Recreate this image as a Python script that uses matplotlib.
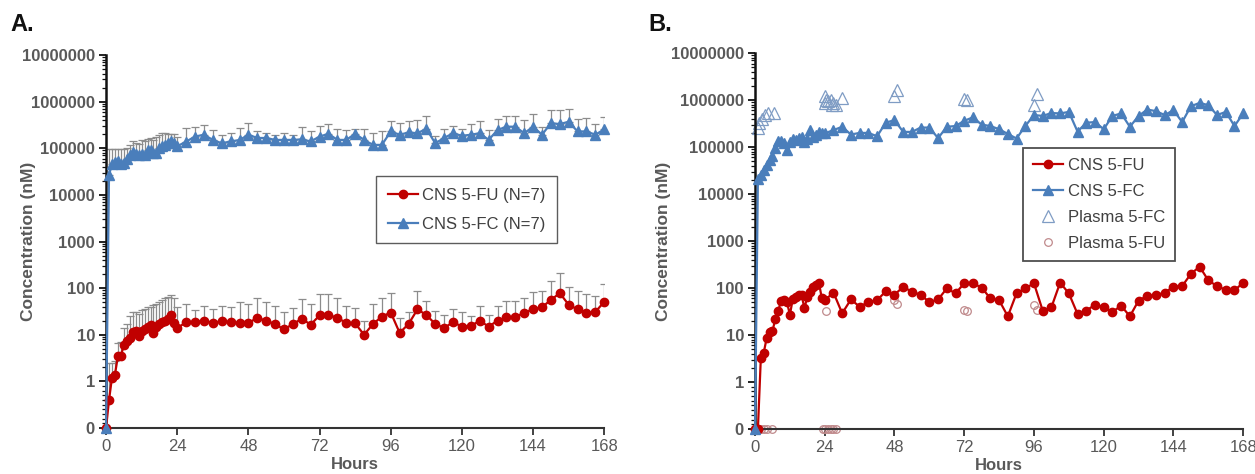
import numpy as np
import matplotlib
matplotlib.use('Agg')
import matplotlib.pyplot as plt
from matplotlib.ticker import FixedLocator

plt.rcParams['font.family'] = ['Liberation Sans', 'DejaVu Sans']

# sampling times (h): hourly for the first day, then every 3 h
hours = list(range(0, 25)) + list(range(27, 169, 3))

# ---- panel A: mean + upper SD (N=7) ----
a_fu = [0, 0.6, 1.2, 1.4, 3.5, 3.5, 6, 7.5, 8.5, 11.5, 12, 9.5, 12, 13.5, 15, 16, 11, 15, 17, 19,
        20, 22, 27, 18, 14,
        18.5, 18.5, 20, 18, 19.5, 18.5, 18, 18, 23, 20, 17, 13, 17, 22, 16.5, 26, 26.6, 23, 18, 17.5,
        10, 17, 24.5, 30, 11, 17, 35, 26.6, 17, 14, 18.6, 15, 15.5, 20, 15, 20, 23.7, 23.7, 30, 35,
        39, 56, 78, 44, 35, 29, 31, 51]
a_fu_top = [0, 2.5, 2.5, 2.7, 6.5, 7, 14, 17, 25, 31, 31, 28, 34, 35, 40, 40, 44, 46, 51, 55,
            60, 65, 72, 60, 40,
            46, 34, 41, 36, 41, 40, 51, 45, 62, 51, 41, 31, 38, 58, 46, 74, 74, 60, 41, 37,
            20, 46, 60, 78, 23, 31, 87, 53, 32, 26, 36, 31, 25.5, 41.5, 27, 41.5, 53, 53, 60, 81,
            87, 145, 215, 105, 87, 74, 68, 120]
a_fc = [0, 27000, 45000, 50000, 52000, 45000, 48000, 60000, 72000, 85000, 75000, 72000, 75000,
        72000, 90000, 93000, 80000, 78000, 100000, 110000, 120000, 128000, 140000, 130000, 110000,
        139000, 178000, 195000, 151000, 128000, 140000, 150000, 195000, 166000, 166000, 151000,
        151000, 151000, 155000, 140000, 178000, 204000, 151000, 151000, 204000, 151000, 118000,
        118000, 229000, 195000, 218000, 210000, 262000, 128000, 166000, 210000, 185000, 195000,
        210000, 151000, 246000, 290000, 290000, 210000, 290000, 195000, 345000, 330000, 370000,
        229000, 229000, 195000, 255000]
a_fc_top = [0, 95000, 95000, 95000, 95000, 95000, 95000, 100000, 120000, 140000, 130000, 125000,
            150000, 140000, 160000, 166000, 150000, 170000, 190000, 210000, 210000, 205000,
            200000, 200000, 170000,
            270000, 290000, 320000, 250000, 195000, 210000, 270000, 355000, 230000, 210000,
            195000, 210000, 195000, 283000, 235000, 300000, 333000, 255000, 246000, 262000,
            262000, 210000, 235000, 390000, 345000, 390000, 410000, 500000, 185000, 255000,
            300000, 255000, 333000, 390000, 246000, 420000, 480000, 500000, 410000, 530000,
            290000, 660000, 660000, 680000, 420000, 440000, 330000, 470000]

# ---- panel B: single animal CNS + plasma samples ----
b_fu = [0, 0, 3.2, 4.2, 8.5, 11.7, 12, 22, 33, 54, 55, 50, 27, 58, 65, 70, 72, 37, 65, 83,
        105, 115, 130, 60, 55,
        80, 29, 57, 40, 50, 55, 85, 72, 106, 83, 72, 50, 57, 98, 77, 126, 126, 102, 60, 55,
        25, 77, 98, 126, 33, 39, 130, 77, 28, 33, 44, 39, 31, 42, 25, 54, 68, 70, 80, 106,
        110, 200, 285, 145, 110, 91, 89, 130]
b_fc = [0, 21000, 26000, 33000, 42000, 52000, 65000, 95000, 135000, 135000, 125000, 85000,
        128000, 145000, 140000, 155000, 165000, 130000, 150000, 230000, 160000, 180000, 210000,
        200000, 195000,
        230000, 270000, 185000, 200000, 200000, 170000, 330000, 375000, 210000, 210000, 260000,
        260000, 155000, 270000, 280000, 363000, 428000, 300000, 280000, 240000, 190000, 152000,
        280000, 480000, 460000, 530000, 520000, 560000, 213000, 330000, 340000, 240000, 460000,
        520000, 270000, 460000, 630000, 580000, 480000, 610000, 340000, 740000, 870000, 780000,
        480000, 560000, 280000, 520000]

plasma_fc_hours = [1, 1.5, 2.5, 3.5, 4.5, 6.5, 24, 24, 24.5, 25, 26, 26.5, 27, 28, 30,
                   48, 49, 72, 73, 96, 97]
plasma_fc = [250000, 320000, 390000, 470000, 520000, 520000, 1250000, 850000, 1000000, 950000,
             1000000, 800000, 850000, 800000, 1100000, 1200000, 1600000, 1050000, 1000000,
             800000, 1350000]
plasma_fu_hours = [0.5, 1, 2, 3, 4, 6, 23.5, 24, 25, 26, 27, 28, 24.5, 48, 49, 72, 73, 96, 97]
plasma_fu = [0, 0, 0, 0, 0, 0, 0, 0, 0, 0, 0, 0, 33, 55, 45, 34, 32, 44, 34]

ytick_vals = [0, 1, 10, 100, 1000, 10000, 100000, 1000000, 10000000]
ytick_labels = ['0', '1', '10', '100', '1000', '10000', '100000', '1000000', '10000000']
xtick_vals = list(range(0, 169, 24))

RED = '#C00000'
BLUE = '#4A7EBB'
GREY_TXT = '#595959'


def style_axis(ax, label_x):
    ax.set_yscale('symlog', linthresh=1, linscale=0.9)
    ax.set_ylim(0, 1e7)
    ax.set_xlim(0, 168)
    ax.set_xticks(xtick_vals)
    ax.set_xticklabels([str(v) for v in xtick_vals], color=GREY_TXT, fontsize=12)
    ax.set_yticks(ytick_vals)
    ax.set_yticklabels(ytick_labels, color=GREY_TXT, fontsize=12, fontweight='bold')
    minor = [i / 10 for i in range(1, 10)] + [k * 10 ** d for d in range(0, 7) for k in range(2, 10)]
    ax.yaxis.set_minor_locator(FixedLocator(minor))
    for s in ('top', 'right'):
        ax.spines[s].set_visible(False)
    ax.spines['left'].set_linewidth(1.8)
    ax.spines['left'].set_color('#111111')
    ax.spines['bottom'].set_linewidth(1.5)
    ax.spines['bottom'].set_color('#333333')
    ax.tick_params(axis='y', which='major', length=5, width=1.3, color='#111111', pad=3)
    ax.tick_params(axis='y', which='minor', length=3, width=0.9, color='#111111')
    ax.tick_params(axis='x', which='major', length=5, width=1.3, color='#333333', pad=3)
    ax.set_ylabel('Concentration (nM)', color=GREY_TXT, fontsize=12.5, fontweight='bold')
    ax.yaxis.set_label_coords(label_x, 0.5)
    ax.set_xlabel('Hours', color=GREY_TXT, fontsize=12, fontweight='bold', labelpad=2)


fig = plt.figure(figsize=(12.55, 4.74), dpi=100)
axA = fig.add_axes([0.0845, 0.097, 0.397, 0.787])
axB = fig.add_axes([0.6016, 0.095, 0.389, 0.793])

# panel A
h = np.array(hours)
for vals, tops in ((a_fu, a_fu_top), (a_fc, a_fc_top)):
    v = np.array(vals, dtype=float)
    up = np.array(tops, dtype=float) - v
    axA.errorbar(h, v, yerr=[np.zeros_like(v), up], fmt='none', ecolor='#8c8c8c',
                 elinewidth=0.9, capsize=3, capthick=0.9, zorder=1)
axA.plot(h, a_fu, color=RED, marker='o', ms=6, lw=1.6, label='CNS 5-FU (N=7)', zorder=3, clip_on=False)
axA.plot(h, a_fc, color=BLUE, marker='^', ms=6.5, lw=1.6, label='CNS 5-FC (N=7)', zorder=3, clip_on=False)
style_axis(axA, -0.14)
legA = axA.legend(loc='upper left', bbox_to_anchor=(0.542, 0.676), borderaxespad=0, fontsize=12,
                  frameon=True, fancybox=False, edgecolor='#333333', labelspacing=0.85,
                  handlelength=1.8, handletextpad=0.25, borderpad=0.7)
legA.get_frame().set_linewidth(1.0)
for t in legA.get_texts():
    t.set_color('#404040')

# panel B
axB.plot(h, b_fu, color=RED, marker='o', ms=6, lw=1.6, label='CNS 5-FU', zorder=3, clip_on=False)
axB.plot(h, b_fc, color=BLUE, marker='^', ms=6.5, lw=1.6, label='CNS 5-FC', zorder=3, clip_on=False)
axB.plot(plasma_fc_hours, plasma_fc, ls='none', marker='^', ms=8.5, mfc='none', mec='#7f9cc4',
         mew=0.9, label='Plasma 5-FC', zorder=2, clip_on=False)
axB.plot(plasma_fu_hours, plasma_fu, ls='none', marker='o', ms=5.5, mfc='none', mec='#c08a8c',
         mew=0.9, label='Plasma 5-FU', zorder=2, clip_on=False)
style_axis(axB, -0.172)
legB = axB.legend(loc='upper left', bbox_to_anchor=(0.549, 0.747), borderaxespad=0, fontsize=12,
                  frameon=True, fancybox=False, edgecolor='#222222', labelspacing=0.65,
                  handlelength=1.8, handletextpad=0.3, borderpad=0.6)
legB.get_frame().set_linewidth(1.3)
for t in legB.get_texts():
    t.set_color('#404040')

fig.text(0.008, 0.935, 'A.', fontsize=17, fontweight='bold', color='#111111')
fig.text(0.517, 0.935, 'B.', fontsize=17, fontweight='bold', color='#111111')

fig.savefig('out.png', dpi=100)
plt.close(fig)
